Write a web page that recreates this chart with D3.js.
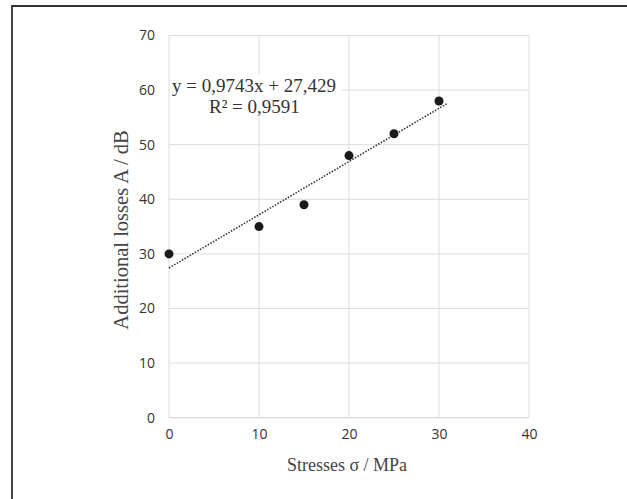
<!DOCTYPE html>
<html><head><meta charset="utf-8">
<script src="https://cdn.jsdelivr.net/npm/d3@7"></script>
<style>body{margin:0;background:#fff}svg{display:block}</style>
</head><body><svg id="c" width="627" height="499"></svg>
<script>
const stressX = [0, 10, 15, 20, 25, 30];
const lossY = [30, 35, 39, 48, 52, 58];
const xTicks = [0, 10, 20, 30, 40];
const yTicks = [0, 10, 20, 30, 40, 50, 60, 70];
const slope = 0.9743, intercept = 27.429;
const trendRange = [0, 31];
const eqText = "y = 0,9743x + 27,429";
const r2Text = "R\u00B2 = 0,9591";
const xTitle = "Stresses \u03C3 / MPa";
const yTitle = "Additional losses A / dB";

const svg = d3.select("#c");
const x = d3.scaleLinear().domain([0, 40]).range([169, 529]);
const y = d3.scaleLinear().domain([0, 70]).range([417.7, 35.5]);
const serif = "'Liberation Serif', 'Times New Roman', serif";
const sans = "'Open Sans', 'Liberation Sans', sans-serif";

// frame (top and left)
svg.append("path").attr("d", "M12,499V6H627").attr("fill", "none")
  .attr("stroke", "#333").attr("stroke-width", 1.8);

// gridlines
const g = svg.append("g");
g.selectAll(".hg").data(yTicks).join("line")
  .attr("x1", x(0)).attr("x2", x(40))
  .attr("y1", d => y(d)).attr("y2", d => y(d))
  .attr("stroke", d => d === 0 ? "#cfcfcf" : "#dcdcdc").attr("stroke-width", 1);
g.selectAll(".vg").data(xTicks).join("line")
  .attr("x1", d => x(d)).attr("x2", d => x(d))
  .attr("y1", y(0)).attr("y2", y(70))
  .attr("stroke", "#dcdcdc").attr("stroke-width", 1);

// axes (labels only)
const yAxis = d3.axisLeft(y).tickValues(yTicks).tickSize(0).tickPadding(0);
const ya = svg.append("g").attr("transform", `translate(155,0)`).call(yAxis);
ya.select(".domain").remove();
ya.selectAll("text").attr("font-family", sans).attr("font-size", 14).attr("fill", "#333");

const xAxis = d3.axisBottom(x).tickValues(xTicks).tickSize(0).tickPadding(0);
const xa = svg.append("g").attr("transform", `translate(0,429)`).call(xAxis);
xa.select(".domain").remove();
xa.selectAll("text").attr("font-family", sans).attr("font-size", 14).attr("fill", "#333");

// equation label with white background
svg.append("rect").attr("x", 170).attr("y", 74).attr("width", 172).attr("height", 44).attr("fill", "#fff");
svg.append("text").attr("x", 172).attr("y", 92).text(eqText)
  .attr("font-family", serif).attr("font-size", 19).attr("fill", "#333");
svg.append("text").attr("x", 209).attr("y", 113).text(r2Text)
  .attr("font-family", serif).attr("font-size", 19).attr("fill", "#333");

// trendline
svg.append("line")
  .attr("x1", x(trendRange[0])).attr("y1", y(intercept + slope * trendRange[0]))
  .attr("x2", x(trendRange[1])).attr("y2", y(intercept + slope * trendRange[1]))
  .attr("stroke", "#333").attr("stroke-width", 1.6).attr("stroke-dasharray", "1.5,1.5");

// points
svg.selectAll(".pt").data(stressX).join("circle")
  .attr("cx", d => x(d)).attr("cy", (d, i) => y(lossY[i])).attr("r", 4.5).attr("fill", "#1a1a1a");

// axis titles
svg.append("text").attr("x", 347).attr("y", 471).attr("text-anchor", "middle").text(xTitle)
  .attr("font-family", serif).attr("font-size", 18).attr("fill", "#444");
svg.append("text").attr("transform", "translate(128,230) rotate(-90)").attr("text-anchor", "middle").text(yTitle)
  .attr("font-family", serif).attr("font-size", 20.5).attr("fill", "#444");
</script></body></html>
